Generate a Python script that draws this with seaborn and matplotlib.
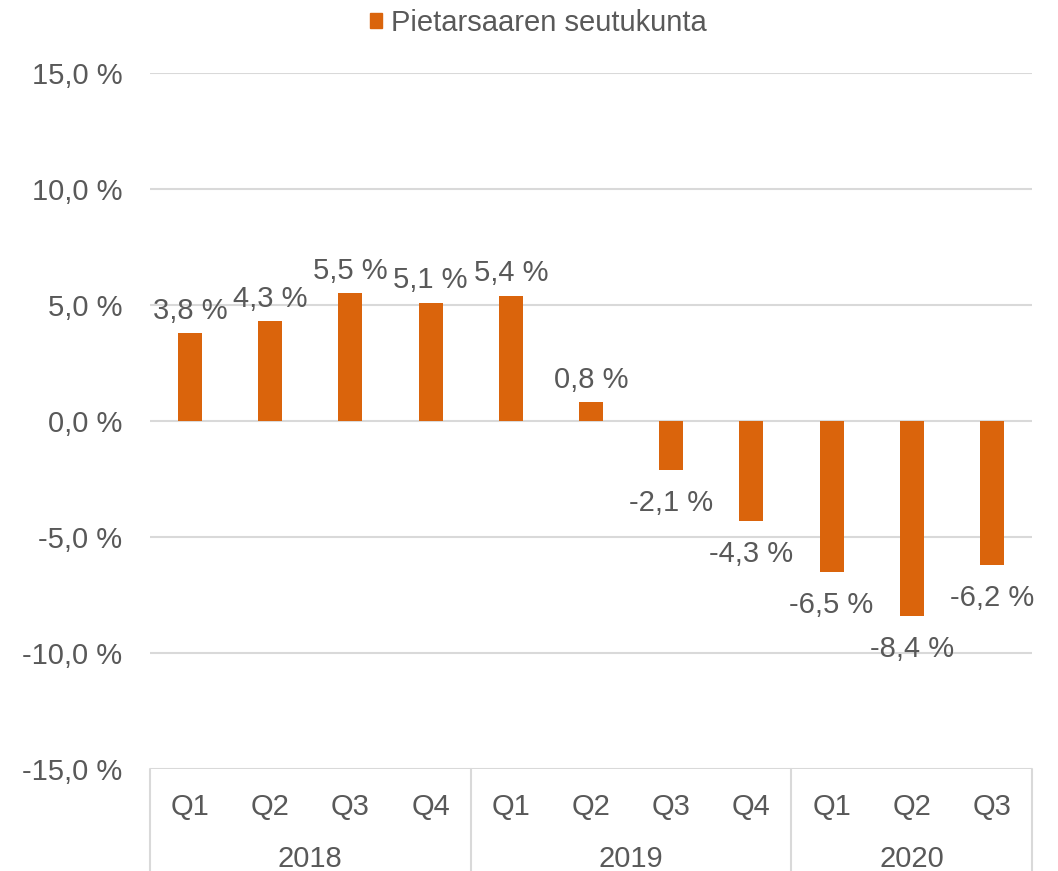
import numpy as np
import pandas as pd
import matplotlib
matplotlib.use('Agg')
import matplotlib.pyplot as plt
import matplotlib.transforms as mtransforms
from matplotlib.ticker import FuncFormatter
import seaborn as sns

# ── Data ──────────────────────────────────────────────────────────────────────
years    = ['2018', '2019', '2020']
quarters = ['Q1', 'Q2', 'Q3', 'Q4', 'Q1', 'Q2', 'Q3', 'Q4', 'Q1', 'Q2', 'Q3']
year_of  = ['2018'] * 4 + ['2019'] * 4 + ['2020'] * 3
values   = [3.8, 4.3, 5.5, 5.1, 5.4, 0.8, -2.1, -4.3, -6.5, -8.4, -6.2]
series   = 'Pietarsaaren seutukunta'

BAR_COLOR  = '#DA640C'
TEXT_COLOR = '#595959'
GRID_COLOR = '#D9D9D9'
FS = 21

df = pd.DataFrame({
    'jakso': [f'{y} {q}' for y, q in zip(year_of, quarters)],
    'muutos': values,
})

sns.set_style('white')
plt.rcParams['font.family'] = ['Liberation Sans', 'DejaVu Sans']

fig = plt.figure(figsize=(10.58, 8.71), dpi=100)
ax = fig.add_axes([150 / 1058, 102 / 871, 882 / 1058, 696 / 871])

sns.barplot(data=df, x='jakso', y='muutos', color=BAR_COLOR, width=0.3,
            saturation=1, linewidth=0, ax=ax, label=series)

ax.set_ylim(-15, 15)
ax.set_xlim(-0.5, len(values) - 0.5)
ax.set_yticks(np.arange(-15, 16, 5))
ax.yaxis.set_major_formatter(FuncFormatter(lambda v, p: f'{v:.1f} %'.replace('.', ',')))
ax.grid(axis='y', color=GRID_COLOR, linewidth=1.5)
ax.set_axisbelow(True)
for s in ax.spines.values():
    s.set_visible(False)
ax.set_xlabel('')
ax.set_ylabel('')
ax.tick_params(axis='y', length=0, pad=20, labelsize=FS, labelcolor=TEXT_COLOR)
ax.set_xticks(range(len(quarters)))
ax.set_xticklabels(quarters)
ax.tick_params(axis='x', length=0, pad=17, labelsize=FS, labelcolor=TEXT_COLOR)

# arvomerkinnät pylväiden päihin
for i, v in enumerate(values):
    txt = f'{v:.1f} %'.replace('.', ',')
    if v >= 0:
        ax.annotate(txt, (i, v), xytext=(0, 6), textcoords='offset points',
                    ha='center', va='bottom', fontsize=FS, color=TEXT_COLOR)
    else:
        ax.annotate(txt, (i, v), xytext=(0, -14), textcoords='offset points',
                    ha='center', va='top', fontsize=FS, color=TEXT_COLOR)

# vuositasot ja erotinviivat
trans = mtransforms.blended_transform_factory(ax.transData, ax.transAxes)
bottom = -102 / 696
bounds = [-0.5]
start = 0
for y in years:
    n = year_of.count(y)
    centre = start + (n - 1) / 2
    ax.text(centre, -0.129, y, transform=trans, ha='center', va='center',
            fontsize=FS, color=TEXT_COLOR)
    start += n
    bounds.append(start - 0.5)
for b in bounds:
    ax.plot([b, b], [0, bottom], transform=trans, color=GRID_COLOR,
            linewidth=1.5, clip_on=False)

leg = fig.legend(handles=[plt.Rectangle((0, 0), 1, 1, color=BAR_COLOR)],
                 labels=[series], loc='upper center',
                 bbox_to_anchor=(538 / 1058, 1.02), frameon=False,
                 fontsize=FS, handlelength=0.42, handleheight=0.42,
                 handletextpad=0.3, labelcolor=TEXT_COLOR)
if ax.get_legend() is not None:
    ax.get_legend().remove()

fig.savefig('out.png', dpi=100)
